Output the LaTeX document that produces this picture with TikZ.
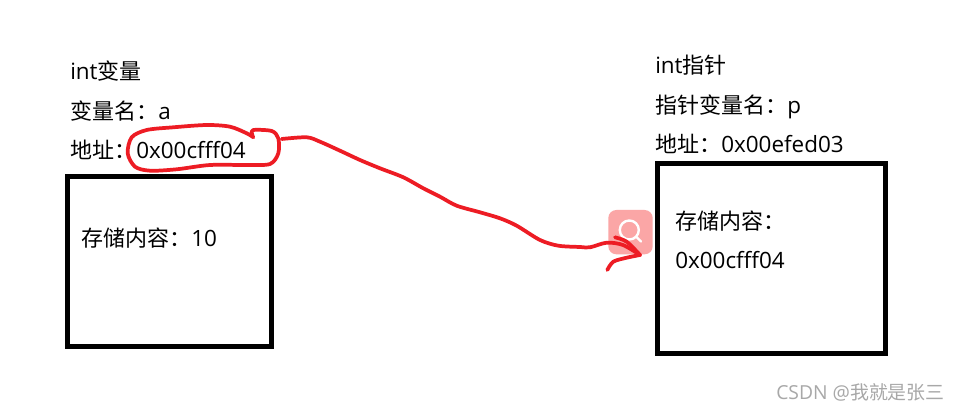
\documentclass[tikz,border=0pt]{standalone}
\usepackage{fontspec}
\setmainfont[Scale=1.02]{Open Sans}
\newfontfamily\cjk{Noto Sans CJK SC}
\definecolor{inkred}{HTML}{ED1C24}
\definecolor{badge}{HTML}{FBA6A6}
\definecolor{mark}{HTML}{A8A8A8}
\tikzset{
  lbl/.style={anchor=west,inner sep=0pt,text height=15pt,text depth=1.5pt,font=\fontsize{16.5pt}{18pt}\selectfont,text=black},
  membox/.style={draw=black,line width=3.75pt,inner sep=0pt,outer sep=0pt,minimum width=#1},
  ink/.style={draw=inkred,line width=2.8pt,line cap=round,line join=round},
}
\begin{document}
\begin{tikzpicture}[x=0.75pt,y=-0.75pt]
\useasboundingbox (0,0) rectangle (960,413);
\fill[white] (0,0) rectangle (960,413);
% boxes
\node[membox=204*0.75pt,minimum height=127.5pt,anchor=north west] (boxa) at (67.5,176.5) {};
\node[membox=228*0.75pt,minimum height=142.5pt,anchor=north west] (boxp) at (657.5,163.5) {};
% left labels
\node[lbl] (t1) at (70,71) {int{\cjk 变量}};
\node[lbl] (t2) at (70,111) {{\cjk 变量名：}a};
\node[lbl] (t3) at (70,150) {{\cjk 地址：}};
\node[lbl] (t4) at (136,150) {0x00cfff04};
\node[lbl] (t5) at (81,238) {{\cjk 存储内容：}10};
% right labels
\node[lbl] (r1) at (655,65) {int{\cjk 指针}};
\node[lbl] (r2) at (655,105) {{\cjk 指针变量名：}p};
\node[lbl] (r3) at (655,144) {{\cjk 地址：}0x00efed03};
\node[lbl] (r4) at (675,221) {{\cjk 存储内容：}};
\node[lbl] (r5) at (675,260) {0x00cfff04};
% watermark
\node[anchor=east,inner sep=0pt,text=mark,font=\fontsize{14.2pt}{16pt}\selectfont] (wm) at (945,392) {CSDN @{\cjk 我就是张三}};
% magnifier badge
\fill[badge,rounded corners=6pt] (608.3,210) rectangle (652.7,254.3);
\draw[white,line width=1.8pt] (629.3,230) circle (9.5);
\draw[white,line width=1.8pt,line cap=round] (636.5,237) -- (641,241.5);
% hand-drawn loop
\draw[ink] plot[smooth,tension=0.5] coordinates {(253.3,137.3)(246.7,133.3)(230,126.7)(206.7,125)(173.3,127.3)(146.7,130)(131.7,137.3)(127.7,153.3)(135,166.7)(150,170.7)(176.7,169.3)(210,165)(246.7,165)(270,164)(278.3,153.3)(278.3,138.3)(271.7,131)(253.3,130)(252,134)(253.3,137.3)};
% hand-drawn arrow
\draw[ink] plot[smooth,tension=0.5] coordinates {(281.7,139)(306.7,137.3)(320,141.7)(340,150.7)(360,160)(380,168.3)(403.3,177.3)(423.3,188.3)(440,196.7)(456.7,205.7)(480,212.3)(500,218.3)(516.7,225.7)(540,240)(558.3,245.7)(580,247)(590,247.3)(606.7,242.7)(623,245)(640,255)};
\draw[ink] plot[smooth,tension=0.5] coordinates {(615,237.3)(626.7,241.7)(640,255)};
\draw[ink] plot[smooth,tension=0.5] coordinates {(607.3,270)(613.3,261.7)(626.7,257.7)(640,255)};
\end{tikzpicture}
\end{document}
